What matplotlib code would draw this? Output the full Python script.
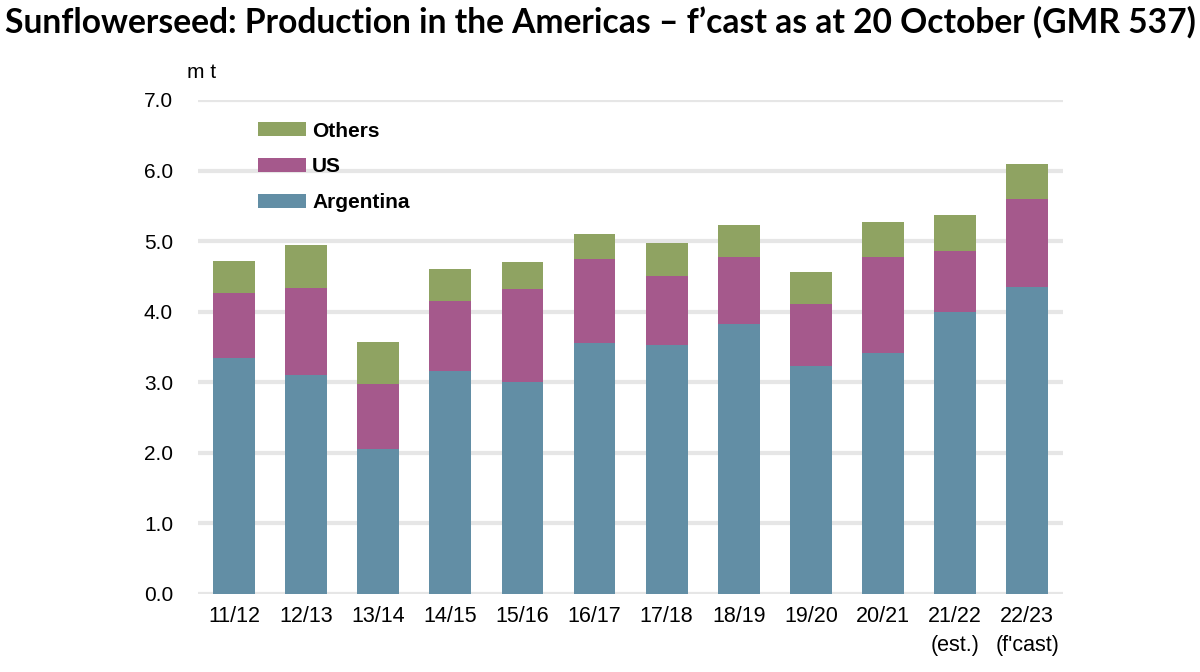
import matplotlib
matplotlib.use("Agg")
import matplotlib.pyplot as plt
import numpy as np

# data (m t)
seasons = ["11/12", "12/13", "13/14", "14/15", "15/16", "16/17", "17/18",
           "18/19", "19/20", "20/21", "21/22\n(est.)", "22/23\n(f'cast)"]
argentina = [3.34, 3.10, 2.05, 3.16, 3.00, 3.55, 3.53, 3.82, 3.23, 3.42, 3.99, 4.35]
us_total  = [4.26, 4.34, 2.98, 4.15, 4.32, 4.75, 4.50, 4.77, 4.11, 4.77, 4.86, 5.59]
all_total = [4.72, 4.94, 3.57, 4.60, 4.71, 5.10, 4.98, 5.23, 4.56, 5.27, 5.37, 6.10]
us = [b - a for a, b in zip(argentina, us_total)]
others = [c - b for b, c in zip(us_total, all_total)]

c_arg, c_us, c_oth = "#628ea5", "#a5598c", "#8fa362"

plt.rcParams["font.family"] = ["Liberation Sans", "DejaVu Sans"]

fig = plt.figure(figsize=(12, 6.72), dpi=100)
ax = fig.add_axes([0.165, 0.1161, 0.721, 0.7351])

x = np.arange(len(seasons))
w = 0.58
b1 = ax.bar(x, argentina, w, color=c_arg, label="Argentina", zorder=3)
b2 = ax.bar(x, us, w, bottom=argentina, color=c_us, label="US", zorder=3)
b3 = ax.bar(x, others, w, bottom=us_total, color=c_oth, label="Others", zorder=3)

ax.set_xlim(-0.5, len(seasons) - 0.5)
ax.set_ylim(0, 7)
ax.set_yticks(np.arange(0, 7.5, 1.0))
ax.set_yticklabels([f"{v:.1f}" for v in np.arange(0, 7.5, 1.0)], fontsize=15)
ax.set_xticks(x)
ax.set_xticklabels(seasons, fontsize=15.5, linespacing=1.5)
ax.yaxis.grid(True, color="#e6e6e6", linewidth=3, zorder=0)
ax.set_axisbelow(True)
for s in ax.spines.values():
    s.set_visible(False)
ax.tick_params(axis="both", length=0)
ax.tick_params(axis="y", pad=18)
ax.tick_params(axis="x", pad=9)

fig.text(187 / 1200, 1 - 73 / 672, "m t", fontsize=15, va="center", ha="left")

fig.legend([b3, b2, b1], ["Others", "US", "Argentina"],
           loc="upper left", bbox_to_anchor=(258 / 1200, 0.819),
           frameon=False, borderpad=0, borderaxespad=0,
           handlelength=2.3, handleheight=0.67, handletextpad=0.3,
           labelspacing=0.8,
           prop={"weight": "bold", "size": 15})

fig.text(0.5, 1 - 22 / 672,
         "Sunflowerseed: Production in the Americas \u2013 f\u2019cast as at 20 October (GMR 537)",
         fontsize=24.2, fontweight="bold", ha="center", va="center",
         family=["Lato", "DejaVu Sans"])

fig.savefig("out.png", dpi=100)
